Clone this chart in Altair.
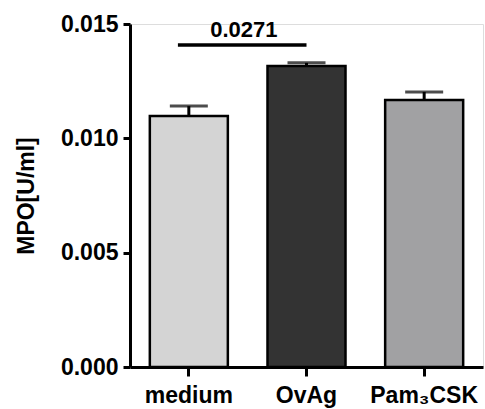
import altair as alt
import pandas as pd

categories = ["medium", "OvAg", "Pam₃CSK"]
means = [0.01098, 0.01316, 0.01168]
errors = [0.00043, 0.00014, 0.00035]
colors = ["#d4d4d4", "#333333", "#a1a1a3"]
y_ticks = [0.0, 0.005, 0.010, 0.015]
sig_pair = ["medium", "OvAg"]
sig_y = 0.01408
sig_label = "0.0271"

df = pd.DataFrame({
    "group": categories,
    "mean": means,
    "err": errors,
    "color": colors,
})
df["top"] = df["mean"] + df["err"]

sig = pd.DataFrame({"a": [sig_pair[0]], "b": [sig_pair[1]], "y": [sig_y], "label": [sig_label]})

FONT = "Liberation Sans"

xscale = alt.Scale(domain=categories, paddingInner=0.337, paddingOuter=0.1685)
yscale = alt.Scale(domain=[0, 0.015], nice=False, zero=True)

x = alt.X("group:N", scale=xscale, sort=categories, title=None,
          axis=alt.Axis(labelAngle=0, labelFont=FONT, labelFontSize=23, labelFontWeight="bold",
                        labelColor="black", domainColor="black", domainWidth=3,
                        tickColor="black", tickWidth=3, tickSize=9, labelPadding=8))
y = alt.Y("mean:Q", scale=yscale, title="MPO[U/ml]",
          axis=alt.Axis(values=y_ticks, format=".3f", labelFont=FONT, labelFontSize=23,
                        labelFontWeight="bold", labelColor="black", domainColor="black",
                        domainWidth=3, tickColor="black", tickWidth=3, tickSize=7,
                        labelPadding=5, grid=False, titleFont=FONT, titleFontSize=23,
                        titleFontWeight="bold", titleColor="black", titlePadding=22))

bars = alt.Chart(df).mark_bar(stroke="black", strokeWidth=2.5).encode(
    x=x, y=y, color=alt.Color("color:N", scale=None)
)

err_rule = alt.Chart(df).mark_rule(color="black", strokeWidth=3).encode(
    x=alt.X("group:N", scale=xscale, sort=categories),
    y=alt.Y("mean:Q", scale=yscale),
    y2="top:Q",
)
err_cap = alt.Chart(df).mark_tick(color="black", thickness=3, size=38).encode(
    x=alt.X("group:N", scale=xscale, sort=categories),
    y=alt.Y("top:Q", scale=yscale),
)

sig_rule = alt.Chart(sig).mark_rule(color="black", strokeWidth=3.5).encode(
    x=alt.X("a:N", scale=xscale, bandPosition=0.36),
    x2="b:N",
    y=alt.Y("y:Q", scale=yscale),
)
sig_text = alt.Chart(sig).mark_text(font=FONT, fontSize=22, fontWeight="bold", color="black",
                                    baseline="bottom", dy=-3, dx=16).encode(
    x=alt.X("a:N", scale=xscale, bandPosition=1.0),
    y=alt.Y("y:Q", scale=yscale),
    text="label:N",
)

chart = alt.layer(bars, err_rule, err_cap, sig_rule, sig_text).properties(
    width=353, height=343,
    autosize=alt.AutoSizeParams(type="none"),
    padding={"left": 130, "top": 24, "right": 2, "bottom": 42},
).configure_view(stroke=None).configure(background="white")

chart.save("out.html", embed_options={"renderer": "svg", "actions": False})
